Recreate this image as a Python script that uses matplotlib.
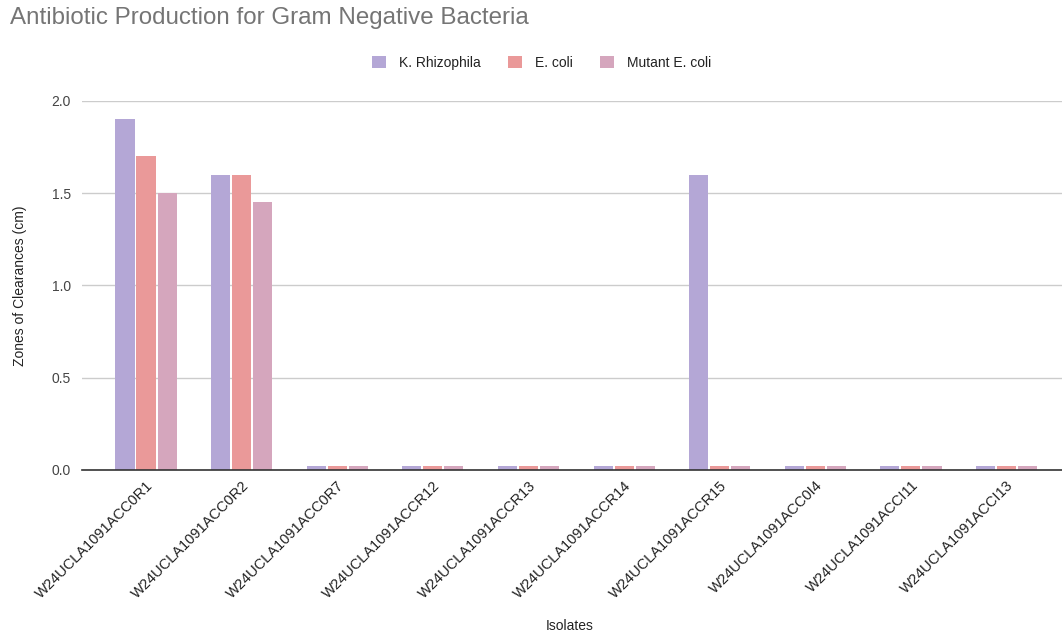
import numpy as np
import matplotlib
matplotlib.use("Agg")
import matplotlib.pyplot as plt
from matplotlib.transforms import IdentityTransform

plt.rcParams['font.family'] = ['Liberation Sans', 'DejaVu Sans']

# Isolates and zone-of-clearance measurements (cm)
isolates = ["W24UCLA1091ACC0R1", "W24UCLA1091ACC0R2", "W24UCLA1091ACC0R7",
            "W24UCLA1091ACCR12", "W24UCLA1091ACCR13", "W24UCLA1091ACCR14",
            "W24UCLA1091ACCR15", "W24UCLA1091ACC0I4", "W24UCLA1091ACCI11",
            "W24UCLA1091ACCI13"]
k_rhizophila = [1.9, 1.6, 0.02, 0.02, 0.02, 0.02, 1.6, 0.02, 0.02, 0.02]
e_coli = [1.7, 1.6, 0.02, 0.02, 0.02, 0.02, 0.02, 0.02, 0.02, 0.02]
mutant_e_coli = [1.5, 1.45, 0.02, 0.02, 0.02, 0.02, 0.02, 0.02, 0.02, 0.02]

series = [("K. Rhizophila", k_rhizophila, "#b4a7d6"),
          ("E. coli", e_coli, "#ea9999"),
          ("Mutant E. coli", mutant_e_coli, "#d5a6bd")]

fig = plt.figure(figsize=(10.62, 6.39), dpi=100)
ax = fig.add_axes([0.0772, 0.2645, 0.9228, 0.5775])

x = np.arange(len(isolates))
step = 0.22
for i, (name, vals, color) in enumerate(series):
    ax.bar(x + (i - 1) * step, vals, width=0.2, color=color, label=name, zorder=3)

ax.set_xlim(-0.67, 9.58)
ax.set_ylim(0, 2.0)
ax.set_yticks([0, 0.5, 1.0, 1.5, 2.0])
ax.set_yticklabels(["0.0", "0.5", "1.0", "1.5", "2.0"])
ax.yaxis.grid(True, color="#cccccc", linewidth=1, zorder=0)
ax.set_axisbelow(True)
for s in ["top", "right", "left"]:
    ax.spines[s].set_visible(False)
ax.spines["bottom"].set_color("#333333")
ax.spines["bottom"].set_linewidth(1.2)
ax.spines["bottom"].set_zorder(4)
ax.tick_params(axis="y", length=0, labelsize=10, labelcolor="#444444", pad=8)
ax.tick_params(axis="x", length=0, labelsize=10.5, labelcolor="#222222", pad=6)

ax.set_xticks(x)
ax.set_xticklabels(isolates, rotation=45, ha="right", rotation_mode="anchor")

ax.set_ylabel("Zones of Clearances (cm)", fontsize=10, color="#222222", labelpad=18)
# x-axis title sits at the bottom of the figure, in pixel coordinates
fig.text(570, 13, "Isolates", fontsize=10, color="#222222", ha="center",
         va="center", transform=IdentityTransform())

fig.text(0.0094, 0.972, "Antibiotic Production for Gram Negative Bacteria",
         fontsize=17.4, color="#757575", va="center", ha="left")

fig.legend(loc="center", bbox_to_anchor=(0.51, 0.902), ncol=3, frameon=False,
           fontsize=10, handlelength=1.0, handleheight=1.0, handletextpad=0.9,
           columnspacing=2.0, labelcolor="#222222")

fig.savefig("out.png", dpi=100)
